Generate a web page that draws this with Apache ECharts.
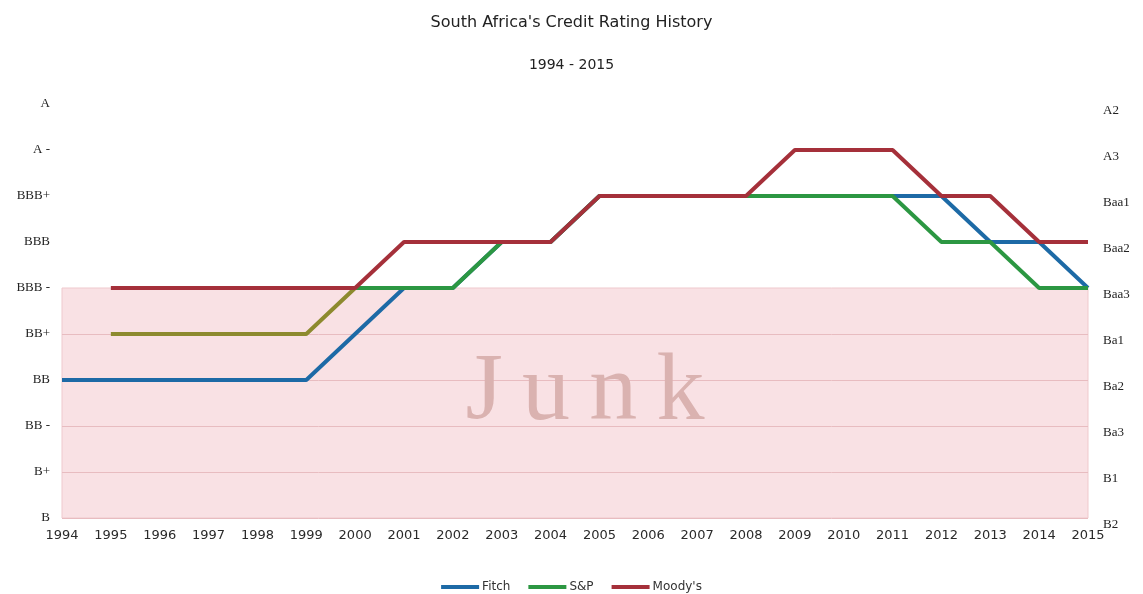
<!DOCTYPE html>
<html>
<head>
<meta charset="utf-8">
<title>South Africa's Credit Rating History</title>
<script src="https://cdn.jsdelivr.net/npm/echarts@6/dist/echarts.min.js"></script>
<style>
  html, body { margin: 0; padding: 0; background: #fff; }
  #chart { width: 1143px; height: 594px; }
</style>
</head>
<body>
<div id="chart"></div>
<script>
// Years on the horizontal axis
const years = ['1994','1995','1996','1997','1998','1999','2000','2001','2002','2003','2004',
               '2005','2006','2007','2008','2009','2010','2011','2012','2013','2014','2015'];

// Rating scales (index 0 = lowest notch)
const spFitchScale = ['B', 'B+', 'BB -', 'BB', 'BB+', 'BBB -', 'BBB', 'BBB+', 'A -', 'A'];
const moodysScale  = ['B2', 'B1', 'Ba3', 'Ba2', 'Ba1', 'Baa3', 'Baa2', 'Baa1', 'A3', 'A2'];

// Ratings as notch index on the scale above
const fitch  = [3, 3, 3, 3, 3, 3, 4, 5, 5, 6, 6, 7, 7, 7, 7, 7, 7, 7, 7, 6, 6, 5];
const sp     = [null, 4, 4, 4, 4, 4, 5, 5, 5, 6, 6, 7, 7, 7, 7, 7, 7, 7, 6, 6, 5, 5];
const moodys = [null, 5, 5, 5, 5, 5, 5, 6, 6, 6, 6, 7, 7, 7, 7, 8, 8, 8, 7, 7, 6, 6];

// Highest notch of the sub-investment-grade band
const junkTop = 5;

const colors = { fitch: '#1d6aa6', sp: '#2c9742', spEarly: '#8d8a2e', moodys: '#a5303a' };

// S&P is drawn in two pieces: the early stretch (to 2000) and the rest
const spSplit = years.indexOf('2000');
const spEarly = sp.map((v, i) => (i <= spSplit ? v : null));
const spLate  = sp.map((v, i) => (i >= spSplit ? v : null));

const chart = echarts.init(document.getElementById('chart'), null, { renderer: 'canvas' });

const sansFont = '"DejaVu Sans", "Liberation Sans", sans-serif';
const serifFont = '"Liberation Serif", "DejaVu Serif", serif';

const gridLines = [];
for (let v = 0; v < junkTop; v++) gridLines.push({ yAxis: v });

const lineSeries = (name, data, color, extra) => Object.assign({
  name: name,
  type: 'line',
  data: data,
  symbol: 'none',
  connectNulls: false,
  z: 3,
  lineStyle: { color: color, width: 4 },
  itemStyle: { color: color },
  emphasis: { disabled: true },
  silent: true
}, extra || {});

chart.setOption({
  animation: false,
  backgroundColor: '#ffffff',
  title: [
    {
      text: "South Africa's Credit Rating History",
      left: 'center', top: 10,
      textStyle: { fontFamily: sansFont, fontSize: 16, fontWeight: 'normal', color: '#222' }
    },
    {
      text: '1994 - 2015',
      left: 'center', top: 53,
      textStyle: { fontFamily: sansFont, fontSize: 14, fontWeight: 'normal', color: '#222' }
    }
  ],
  legend: {
    data: ['Fitch', 'S&P', "Moody's"],
    left: 'center', top: 576,
    icon: 'rect', itemWidth: 38, itemHeight: 4, itemGap: 18,
    textStyle: { fontFamily: sansFont, fontSize: 12, color: '#333', padding: [0, 0, 0, -2] },
    selectedMode: false
  },
  grid: { left: 62, right: 55, top: 104, bottom: 76, containLabel: false },
  xAxis: {
    type: 'category',
    data: years,
    boundaryGap: false,
    axisLine: { show: false },
    axisTick: { show: false },
    splitLine: { show: false },
    axisLabel: { interval: 0, margin: 11, fontFamily: sansFont, fontSize: 13, color: '#2a2a2a' }
  },
  yAxis: [
    {
      type: 'value', min: 0, max: 9, interval: 1, position: 'left',
      axisLine: { show: false }, axisTick: { show: false }, splitLine: { show: false },
      axisLabel: {
        margin: 12, fontFamily: serifFont, fontSize: 13, color: '#222',
        formatter: v => spFitchScale[v]
      }
    },
    {
      type: 'value', min: 0, max: 9, interval: 1, position: 'right',
      axisLine: { show: false }, axisTick: { show: false }, splitLine: { show: false },
      axisLabel: {
        margin: 15, fontFamily: serifFont, fontSize: 13, color: '#222',
        verticalAlign: 'top',
        formatter: v => moodysScale[v]
      }
    }
  ],
  series: [
    // Background band and its grid lines sit on a series of their own, under the ratings
    {
      name: 'junk-band',
      type: 'line',
      data: [],
      z: 1,
      silent: true,
      markArea: {
        silent: true,
        z: 1,
        itemStyle: { color: '#f9e1e4', borderColor: '#efc9cd', borderWidth: 1 },
        label: {
          show: true, position: 'inside',
          formatter: 'J\u2009u\u2009n\u2009k',
          fontFamily: serifFont, fontSize: 96, color: '#dab2b0',
          offset: [10, -9]
        },
        data: [[{ yAxis: 0 }, { yAxis: junkTop }]]
      },
      markLine: {
        silent: true,
        z: 1,
        symbol: ['none', 'none'],
        label: { show: false },
        lineStyle: { color: '#e8bcc0', width: 1, type: 'solid' },
        data: gridLines
      }
    },
    lineSeries('Fitch', fitch, colors.fitch),
    lineSeries('S&P', spLate, colors.sp),
    lineSeries('S&P 1995-2000', spEarly, colors.spEarly),
    lineSeries("Moody's", moodys, colors.moodys)
  ]
});
</script>
</body>
</html>
